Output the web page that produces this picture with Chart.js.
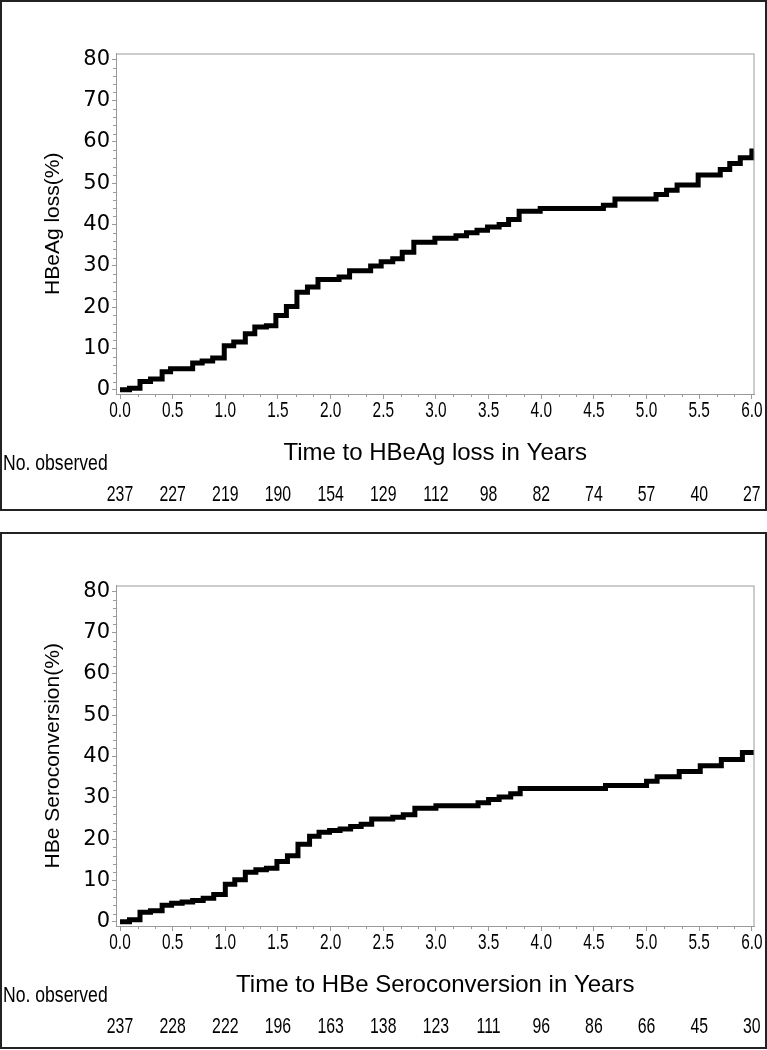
<!DOCTYPE html>
<html>
<head>
<meta charset="utf-8">
<script src="https://cdn.jsdelivr.net/npm/chart.js@4.4.1/dist/chart.umd.min.js"></script>
<style>
  html, body { margin: 0; padding: 0; background: #fff; }
  .panel { position: absolute; left: 0; width: 767px; }
  #p1 { top: 0; height: 511px; }
  #p2 { top: 532px; height: 517px; }
  canvas { display: block; }
</style>
</head>
<body>
<div class="panel" id="p1"><canvas id="c1"></canvas></div>
<div class="panel" id="p2"><canvas id="c2"></canvas></div>
<script>
const yearTicks = [0, 0.5, 1, 1.5, 2, 2.5, 3, 3.5, 4, 4.5, 5, 5.5, 6];
const pctTicks = [0, 10, 20, 30, 40, 50, 60, 70, 80];

// cumulative HBeAg loss (%)
const lossTimes = [0, 0.09, 0.19, 0.29, 0.40, 0.48, 0.69, 0.78, 0.88, 0.99, 1.08, 1.19, 1.28, 1.39, 1.48, 1.58, 1.68, 1.78, 1.88, 2.08, 2.18, 2.38, 2.48, 2.59, 2.68, 2.79, 2.99, 3.19, 3.29, 3.39, 3.49, 3.60, 3.69, 3.79, 3.99, 4.59, 4.70, 5.09, 5.19, 5.29, 5.49, 5.70, 5.79, 5.89, 6.00, 6.02];
const lossPct = [0, 0.4, 2.0, 2.6, 4.4, 5.1, 6.5, 7.0, 7.7, 10.7, 11.6, 13.6, 15.2, 15.5, 18.0, 20.2, 23.6, 24.9, 26.7, 27.3, 28.8, 30.0, 31.0, 31.7, 33.3, 35.7, 36.7, 37.3, 38.0, 38.6, 39.4, 40.0, 41.2, 43.2, 43.9, 44.7, 46.2, 47.3, 48.3, 49.6, 52.0, 53.3, 54.8, 56.2, 57.8, 57.8];
const lossAtRisk = [237, 227, 219, 190, 154, 129, 112, 98, 82, 74, 57, 40, 27];

// cumulative HBe seroconversion (%)
const seroTimes = [0, 0.09, 0.19, 0.29, 0.40, 0.49, 0.59, 0.69, 0.79, 0.89, 1.00, 1.09, 1.19, 1.29, 1.39, 1.49, 1.59, 1.69, 1.80, 1.89, 1.99, 2.09, 2.19, 2.29, 2.39, 2.59, 2.69, 2.80, 3.00, 3.40, 3.50, 3.60, 3.71, 3.80, 4.61, 5.00, 5.10, 5.31, 5.51, 5.71, 5.91, 6.02];
const seroPct = [0, 0.5, 2.3, 2.7, 4.0, 4.5, 4.8, 5.2, 5.7, 6.6, 9.1, 10.2, 12.0, 12.6, 13.0, 14.6, 16.0, 18.8, 20.7, 21.7, 22.1, 22.5, 23.1, 23.6, 24.9, 25.3, 25.9, 27.5, 28.1, 28.8, 29.6, 30.2, 31.0, 32.3, 33.0, 34.0, 35.1, 36.4, 37.8, 39.3, 41.0, 41.0];
const seroAtRisk = [237, 228, 222, 196, 163, 138, 123, 111, 96, 86, 66, 45, 30];

const SANS = '"Liberation Sans", Arial, sans-serif';
const GRIS = '#9a9a9a';

// texto estrecho (la fuente del original es condensada)
function textoAngosto(ctx, text, x, y, sx, align) {
    ctx.save();
    ctx.translate(x, y);
    ctx.scale(sx, 1);
    ctx.textAlign = align;
    ctx.fillText(text, 0, 0);
    ctx.restore();
}

// marco del grafico, ticks menores, etiquetas del eje x y tabla de observados
const marcoPlugin = {
    id: 'marco',
    afterDraw(chart, args, opts) {
        const { ctx, chartArea: a } = chart;
        const x = chart.scales.x;
        const y = chart.scales.y;
        ctx.save();
        ctx.strokeStyle = GRIS;
        ctx.lineWidth = 1;
        ctx.strokeRect(a.left + 0.5, a.top + 0.5, a.right - a.left - 1, a.bottom - a.top);

        ctx.beginPath();
        for (let k = 0; k <= 36; k++) {
            if (k % 3 === 0) continue;
            const px = Math.round(x.getPixelForValue(k / 6)) + 0.5;
            ctx.moveTo(px, a.bottom);
            ctx.lineTo(px, a.bottom + 3);
        }
        for (let v = 0; v <= 80; v += 2) {
            if (v % 10 === 0) continue;
            const py = Math.round(y.getPixelForValue(v)) + 0.5;
            ctx.moveTo(a.left - 3, py);
            ctx.lineTo(a.left, py);
        }
        ctx.stroke();

        ctx.fillStyle = '#000';
        ctx.font = '22px ' + SANS;
        ctx.textBaseline = 'middle';
        x.ticks.forEach((t, i) => {
            textoAngosto(ctx, Number(t.value).toFixed(1), x.getPixelForTick(i), a.bottom + 17, 0.70, 'center');
        });
        textoAngosto(ctx, 'No. observed', 3, 464, 0.8, 'left');
        opts.atRisk.forEach((n, i) => {
            textoAngosto(ctx, String(n), x.getPixelForValue(yearTicks[i]), 495, 0.72, 'center');
        });

        ctx.strokeStyle = '#222';
        ctx.lineWidth = 2;
        ctx.strokeRect(1, 1, chart.width - 2, chart.height - 2);
        ctx.restore();
    }
};

function crearGrafico(canvasId, times, pct, atRisk, yTitle, xTitle, bottomPad) {
    const canvas = document.getElementById(canvasId);
    return new Chart(canvas, {
        type: 'line',
        data: {
            datasets: [{
                data: times.map((t, i) => ({ x: t, y: pct[i] })),
                stepped: true,
                borderColor: '#000',
                borderWidth: 5,
                borderJoinStyle: 'miter',
                borderCapStyle: 'butt',
                pointRadius: 0,
                fill: false
            }]
        },
        options: {
            responsive: true,
            maintainAspectRatio: false,
            animation: false,
            devicePixelRatio: 1,
            layout: { padding: { top: 53.5, right: 12.5, left: 0, bottom: bottomPad } },
            plugins: {
                legend: { display: false },
                tooltip: { enabled: false },
                marco: { atRisk: atRisk }
            },
            scales: {
                x: {
                    type: 'linear',
                    min: -0.038,
                    max: 6.025,
                    afterBuildTicks: s => { s.ticks = yearTicks.map(v => ({ value: v })); },
                    afterFit: s => { s.height = 117; },
                    ticks: { display: false },
                    grid: { drawOnChartArea: false, tickLength: 5, color: GRIS },
                    border: { color: GRIS },
                    title: {
                        display: true,
                        text: xTitle,
                        color: '#000',
                        font: { family: SANS, size: 24 },
                        padding: { top: 0, bottom: 43.6 }
                    }
                },
                y: {
                    type: 'linear',
                    min: -1,
                    max: 81.4,
                    afterBuildTicks: s => { s.ticks = pctTicks.map(v => ({ value: v })); },
                    afterFit: s => { s.width = 116; },
                    ticks: {
                        padding: 2,
                        color: '#000',
                        font: { family: '"DejaVu Sans", sans-serif', size: 21 }
                    },
                    grid: { drawOnChartArea: false, tickLength: 4, color: GRIS },
                    border: { color: GRIS },
                    title: {
                        display: true,
                        text: yTitle,
                        color: '#000',
                        font: { family: SANS, size: 21 },
                        padding: { top: 41, bottom: 0 }
                    }
                }
            }
        },
        plugins: [marcoPlugin]
    });
}

crearGrafico('c1', lossTimes, lossPct, lossAtRisk, 'HBeAg loss(%)', 'Time to HBeAg loss in Years', 0);
crearGrafico('c2', seroTimes, seroPct, seroAtRisk, 'HBe Seroconversion(%)', 'Time to HBe Seroconversion in Years', 6);
</script>
</body>
</html>
